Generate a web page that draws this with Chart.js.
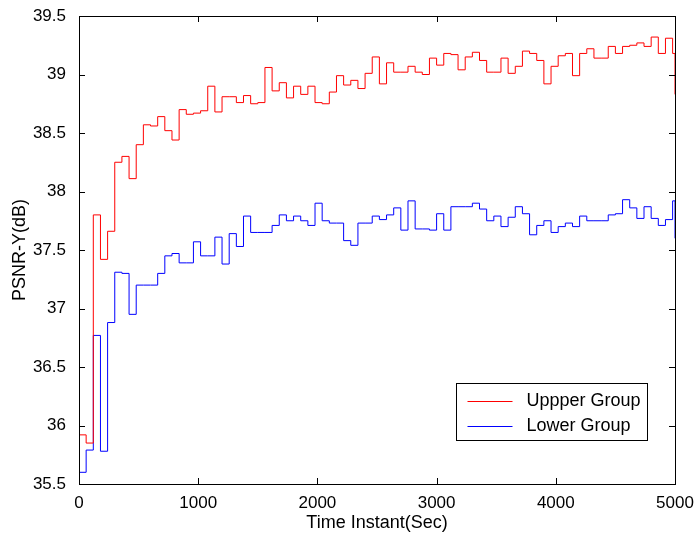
<!DOCTYPE html>
<html lang="en">
<head>
    <meta charset="UTF-8">
    <title>PSNR-Y over time</title>
    <script src="https://cdn.jsdelivr.net/npm/chart.js"></script>
    <style>
        html, body { margin: 0; padding: 0; background: #fff; }
        .chart-container { width: 697px; height: 536px; position: relative; }
    </style>
</head>
<body>

    <div class="chart-container">
        <canvas id="psnrChart"></canvas>
    </div>

    <script>
        // Time instants (sec) where each step starts, last entry is the end
        const times = [
            0, 60, 120, 180, 240, 300, 360, 420, 480, 540,
            600, 660, 720, 780, 840, 900, 960, 1020, 1080, 1140,
            1200, 1260, 1320, 1380, 1440, 1500, 1560, 1620, 1680, 1740,
            1800, 1860, 1920, 1980, 2040, 2100, 2160, 2220, 2280, 2340,
            2400, 2460, 2520, 2580, 2640, 2700, 2760, 2820, 2880, 2940,
            3000, 3060, 3120, 3180, 3240, 3300, 3360, 3420, 3480, 3540,
            3600, 3660, 3720, 3780, 3840, 3900, 3960, 4020, 4080, 4140,
            4200, 4260, 4320, 4380, 4440, 4500, 4560, 4620, 4680, 4740,
            4800, 4860, 4920, 4980, 5000
        ];

        const upperGroup = [
            35.92, 35.85, 37.80, 37.42, 37.66, 38.25, 38.30, 38.11, 38.40, 38.57,
            38.56, 38.64, 38.52, 38.44, 38.70, 38.66, 38.67, 38.69, 38.90, 38.68,
            38.81, 38.81, 38.76, 38.82, 38.75, 38.76, 39.06, 38.86, 38.93, 38.80,
            38.90, 38.83, 38.90, 38.76, 38.75, 38.85, 38.99, 38.91, 38.95, 38.88,
            39.01, 39.15, 38.92, 39.10, 39.02, 39.02, 39.07, 39.02, 39.00, 39.14,
            39.08, 39.18, 39.17, 39.04, 39.15, 39.19, 39.12, 39.02, 39.02, 39.14,
            39.01, 39.07, 39.20, 39.18, 39.12, 38.92, 39.07, 39.16, 39.18, 38.99,
            39.18, 39.22, 39.14, 39.14, 39.24, 39.18, 39.24, 39.25, 39.27, 39.24,
            39.32, 39.18, 39.31, 39.18, 38.83
        ];

        const lowerGroup = [
            35.60, 35.79, 36.77, 35.78, 36.88, 37.31, 37.30, 36.95, 37.20, 37.20,
            37.20, 37.30, 37.45, 37.47, 37.39, 37.39, 37.57, 37.45, 37.45, 37.61,
            37.38, 37.64, 37.53, 37.79, 37.65, 37.65, 37.65, 37.71, 37.80, 37.75,
            37.79, 37.75, 37.71, 37.90, 37.75, 37.73, 37.73, 37.58, 37.54, 37.73,
            37.73, 37.79, 37.76, 37.80, 37.86, 37.67, 37.92, 37.68, 37.68, 37.67,
            37.81, 37.67, 37.87, 37.87, 37.87, 37.90, 37.85, 37.75, 37.79, 37.70,
            37.78, 37.87, 37.81, 37.63, 37.71, 37.75, 37.65, 37.70, 37.73, 37.70,
            37.79, 37.75, 37.75, 37.75, 37.80, 37.81, 37.93, 37.86, 37.77, 37.87,
            37.77, 37.71, 37.76, 37.92, 37.60
        ];

        const xTicks = [0, 1000, 2000, 3000, 4000, 5000];
        const yTicks = [35.5, 36, 36.5, 37, 37.5, 38, 38.5, 39, 39.5];

        const FONT = '"Liberation Sans", Arial, Helvetica, sans-serif';

        function toPoints(values) {
            return times.map((t, i) => ({ x: t, y: values[i] }));
        }

        // MATLAB style box, inward ticks and legend inside the axes
        const matlabAxes = {
            id: 'matlabAxes',
            afterDatasetsDraw(chart) {
                const { ctx, chartArea: a, scales } = chart;
                const len = 6;
                ctx.save();
                ctx.strokeStyle = '#000';
                ctx.lineWidth = 1;
                ctx.beginPath();
                xTicks.forEach(v => {
                    const px = Math.round(scales.x.getPixelForValue(v)) + 0.5;
                    ctx.moveTo(px, a.bottom); ctx.lineTo(px, a.bottom - len);
                    ctx.moveTo(px, a.top); ctx.lineTo(px, a.top + len);
                });
                yTicks.forEach(v => {
                    const py = Math.round(scales.y.getPixelForValue(v)) + 0.5;
                    ctx.moveTo(a.left, py); ctx.lineTo(a.left + len, py);
                    ctx.moveTo(a.right, py); ctx.lineTo(a.right - len, py);
                });
                ctx.stroke();
                ctx.strokeRect(Math.round(a.left) + 0.5, Math.round(a.top) + 0.5,
                    Math.round(a.right - a.left), Math.round(a.bottom - a.top));

                // legend
                const bw = 191, bh = 57;
                const bx = Math.round(a.right) - 28 - bw + 0.5;
                const by = Math.round(a.bottom) - 44 - bh + 0.5;
                ctx.fillStyle = '#fff';
                ctx.fillRect(bx, by, bw, bh);
                ctx.strokeRect(bx, by, bw, bh);
                ctx.font = '18px ' + FONT;
                ctx.textBaseline = 'middle';
                chart.data.datasets.forEach((ds, i) => {
                    const ly = Math.round(by + 17 + i * 25) + 0.5;
                    ctx.strokeStyle = ds.borderColor;
                    ctx.beginPath();
                    ctx.moveTo(bx + 11, ly); ctx.lineTo(bx + 56, ly);
                    ctx.stroke();
                    ctx.fillStyle = '#000';
                    ctx.fillText(ds.label, bx + 70, ly);
                });
                ctx.restore();
            }
        };

        const ctx = document.getElementById('psnrChart').getContext('2d');
        const psnrChart = new Chart(ctx, {
            type: 'line',
            data: {
                datasets: [{
                    label: 'Uppper Group',
                    data: toPoints(upperGroup),
                    borderColor: '#ff0000',
                    borderWidth: 1,
                    pointRadius: 0,
                    stepped: 'before',
                    fill: false
                }, {
                    label: 'Lower Group',
                    data: toPoints(lowerGroup),
                    borderColor: '#0000ff',
                    borderWidth: 1,
                    pointRadius: 0,
                    stepped: 'before',
                    fill: false
                }]
            },
            options: {
                responsive: true,
                maintainAspectRatio: false,
                animation: false,
                layout: {
                    padding: { top: 16, right: 22, left: 0, bottom: 0 }
                },
                plugins: {
                    legend: { display: false },
                    tooltip: { enabled: false }
                },
                scales: {
                    x: {
                        type: 'linear',
                        min: 0,
                        max: 5000,
                        grid: { display: false },
                        border: { display: false },
                        afterBuildTicks: (scale) => { scale.ticks = xTicks.map(v => ({ value: v })); },
                        afterFit: (scale) => { scale.height = 52; },
                        ticks: {
                            color: '#000',
                            padding: 1,
                            font: { family: FONT, size: 17 },
                            maxRotation: 0,
                            callback: (v) => String(v)
                        },
                        title: {
                            display: true,
                            text: 'Time Instant(Sec)',
                            color: '#000',
                            font: { family: FONT, size: 18 },
                            padding: { top: 0, bottom: 2 }
                        }
                    },
                    y: {
                        min: 35.5,
                        max: 39.5,
                        grid: { display: false },
                        border: { display: false },
                        afterBuildTicks: (scale) => { scale.ticks = yTicks.map(v => ({ value: v })); },
                        afterFit: (scale) => { scale.width = 79; },
                        ticks: {
                            color: '#000',
                            padding: 5,
                            font: { family: FONT, size: 17 },
                            callback: (v) => String(v)
                        },
                        title: {
                            display: true,
                            text: 'PSNR-Y(dB)',
                            color: '#000',
                            font: { family: FONT, size: 18 },
                            padding: { top: 9, bottom: 0 }
                        }
                    }
                }
            },
            plugins: [matlabAxes]
        });
    </script>

</body>
</html>
